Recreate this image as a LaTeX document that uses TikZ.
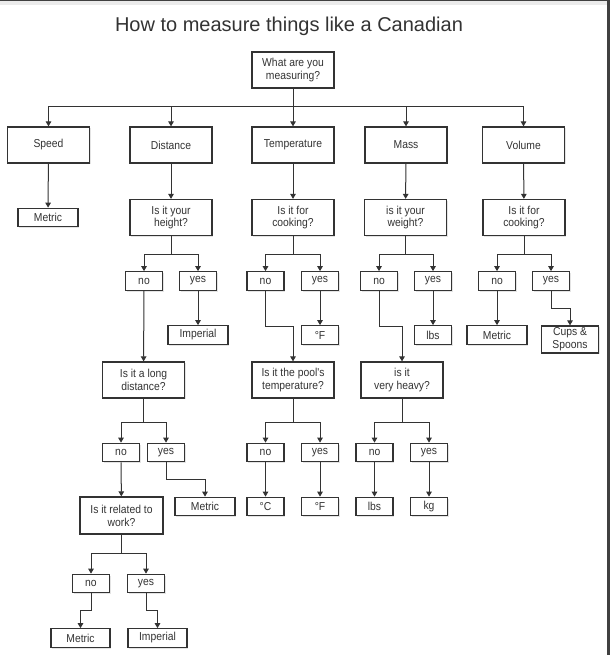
\documentclass[tikz,border=0pt]{standalone}
\usepackage{fontspec}
\setmainfont{Liberation Sans}
\newfontfamily\boxfont[FakeStretch=0.9]{Liberation Sans}
\usetikzlibrary{arrows.meta,shadows}
\definecolor{ink}{HTML}{333333}

\begin{document}
\begin{tikzpicture}[x=1pt,y=-1pt,
  box/.style={draw=ink,line width=1.2pt,fill=white,text=ink,inner sep=0pt,align=center,
    font=\boxfont\fontsize{11.5}{12.8}\selectfont,
    drop shadow={shadow xshift=1.3pt,shadow yshift=-1.3pt,fill=black!30,opacity=0.35}},
  qbox/.style={box,minimum width=82pt,minimum height=36pt},
  ans/.style={box,minimum width=37pt,minimum height=18.5pt},
  res/.style={box,minimum width=60pt,minimum height=18.5pt},
  arr/.style={draw=ink,line width=1pt,-{Triangle[width=5.5pt,length=5pt]}},
  wire/.style={draw=ink,line width=1pt}]
\useasboundingbox (0,0) rectangle (610,655);
\fill[white] (0,0) rectangle (610,655);

% Frame
\fill[black!8] (0,1.5) rectangle (607,5);
\fill[black!75] (0,0) rectangle (610,1.5);
\fill[black!75] (607,0) rectangle (610,655);

% Title
\node[text=ink,font=\fontsize{20}{22}\selectfont] (title) at (289,26) {How to measure things like a Canadian};

% Root
\node[qbox] (root) at (293,70) {What are you\\measuring?};

% Level 1
\node[qbox] (speed) at (48.5,145) {Speed};
\node[qbox] (dist) at (171,145) {Distance};
\node[qbox] (temp) at (293,145) {Temperature};
\node[qbox] (mass) at (406,145) {Mass};
\node[qbox] (vol) at (523.5,145) {Volume};

% Level 2
\node[res] (smet) at (48,217.5) {Metric};
\node[qbox] (hgt) at (171,217.5) {Is it your\\height?};
\node[qbox] (tcook) at (293,217.5) {Is it for\\cooking?};
\node[qbox] (wgt) at (405.5,217.5) {is it your\\weight?};
\node[qbox] (vcook) at (524,217.5) {Is it for\\cooking?};

% Level 3
\node[ans] (hno) at (144,281) {no};
\node[ans] (hyes) at (198,281) {yes};
\node[ans] (tno) at (265.5,281) {no};
\node[ans] (tyes) at (320,281) {yes};
\node[ans] (mno) at (379,281) {no};
\node[ans] (myes) at (433,281) {yes};
\node[ans] (vno) at (497,281) {no};
\node[ans] (vyes) at (551,281) {yes};

% Level 4
\node[res] (himp) at (198,335) {Imperial};
\node[ans] (tf) at (320,335) {°F};
\node[ans] (mlbs) at (433,335) {lbs};
\node[res] (vmet) at (497,335) {Metric};
\node[res,minimum width=57pt,minimum height=27pt] (vcups) at (570,339.5) {Cups \&\\Spoons};

% Level 5
\node[qbox] (long) at (143.5,380) {Is it a long\\distance?};
\node[qbox] (pool) at (293,380) {Is it the pool's\\temperature?};
\node[qbox] (heavy) at (402,380) {is it\\very heavy?};

% Level 6
\node[ans] (lno) at (121,452.5) {no};
\node[ans] (lyes) at (166,452.5) {yes};
\node[ans] (pno) at (265.5,452.5) {no};
\node[ans] (pyes) at (320,452.5) {yes};
\node[ans] (hvno) at (374.5,452.5) {no};
\node[ans] (hvyes) at (429,452.5) {yes};

% Level 7
\node[qbox,minimum width=83pt,minimum height=37pt] (work) at (121.5,515.5) {Is it related to\\work?};
\node[res] (lmet) at (205,506.5) {Metric};
\node[ans] (pc) at (265.5,506.5) {°C};
\node[ans] (pf) at (320,506.5) {°F};
\node[ans] (hvlbs) at (374.5,506.5) {lbs};
\node[ans] (hvkg) at (429,506.5) {kg};

% Work answers
\node[ans] (wno) at (91,583.5) {no};
\node[ans] (wyes) at (146,583.5) {yes};
\node[res,minimum width=59pt] (wmet) at (80.5,638) {Metric};
\node[res,minimum width=59pt] (wimp) at (157.5,638) {Imperial};

% Bus from root
\draw[wire] (root.south) -- ++(0,18) coordinate (bus);
\draw[arr] (bus) -| (speed.north);
\draw[arr] (bus) -| (dist.north);
\draw[arr] (bus) -- (temp.north);
\draw[arr] (bus) -| (mass.north);
\draw[arr] (bus) -| (vol.north);

% Down to questions
\draw[arr] (speed) -- (smet);
\draw[arr] (dist) -- (hgt);
\draw[arr] (temp) -- (tcook);
\draw[arr] (mass) -- (wgt);
\draw[arr] (vol) -- (vcook);

% Yes / no splits
\draw[arr] (hgt.south) -- ++(0,18) -| (hno.north);
\draw[arr] (hgt.south) -- ++(0,18) -| (hyes.north);
\draw[arr] (tcook.south) -- ++(0,18) -| (tno.north);
\draw[arr] (tcook.south) -- ++(0,18) -| (tyes.north);
\draw[arr] (wgt.south) -- ++(0,18) -| (mno.north);
\draw[arr] (wgt.south) -- ++(0,18) -| (myes.north);
\draw[arr] (vcook.south) -- ++(0,18) -| (vno.north);
\draw[arr] (vcook.south) -- ++(0,18) -| (vyes.north);

% Answers
\draw[arr] (hyes) -- (himp);
\draw[arr] (hno) -- (long);
\draw[arr] (tyes) -- (tf);
\draw[arr] (tno.south) -- ++(0,36) -| (pool.north);
\draw[arr] (myes) -- (mlbs);
\draw[arr] (mno.south) -- ++(0,36) -| (heavy.north);
\draw[arr] (vno) -- (vmet);
\draw[arr] (vyes.south) -- ++(0,18) -| (vcups.north);

% Second splits
\draw[arr] (long.south) -- ++(0,24) -| (lno.north);
\draw[arr] (long.south) -- ++(0,24) -| (lyes.north);
\draw[arr] (pool.south) -- ++(0,24) -| (pno.north);
\draw[arr] (pool.south) -- ++(0,24) -| (pyes.north);
\draw[arr] (heavy.south) -- ++(0,24) -| (hvno.north);
\draw[arr] (heavy.south) -- ++(0,24) -| (hvyes.north);

\draw[arr] (lno) -- (work);
\draw[arr] (lyes.south) -- ++(0,17) -| (lmet.north);
\draw[arr] (pno) -- (pc);
\draw[arr] (pyes) -- (pf);
\draw[arr] (hvno) -- (hvlbs);
\draw[arr] (hvyes) -- (hvkg);

% Work
\draw[arr] (work.south) -- ++(0,19) -| (wno.north);
\draw[arr] (work.south) -- ++(0,19) -| (wyes.north);
\draw[arr] (wno.south) -- ++(0,17) -| (wmet.north);
\draw[arr] (wyes.south) -- ++(0,17) -| (wimp.north);
\end{tikzpicture}
\end{document}
